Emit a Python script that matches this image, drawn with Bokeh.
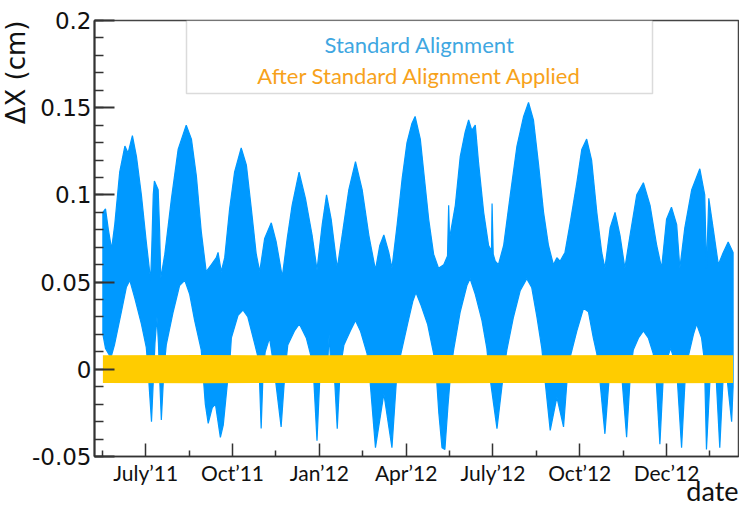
from bokeh.plotting import figure
from bokeh.models import Range1d, FixedTicker, Label, BoxAnnotation, Title
from bokeh.embed import file_html
from bokeh.resources import INLINE

# ---- data (x in months since Jan 2011, y = Delta X in cm) ----
# upper envelope of the "Standard Alignment" scatter
top_month = [4.52, 4.61, 4.71, 4.82, 4.93, 5.10, 5.28, 5.39, 5.54, 5.68,
             5.85, 6.02, 6.17, 6.21, 6.26, 6.30, 6.43, 6.48, 6.52, 6.66,
             6.89, 7.12, 7.40, 7.58, 7.75, 7.92, 8.09, 8.27, 8.44, 8.50,
             8.61, 8.73, 8.90, 9.07, 9.30, 9.48, 9.65, 9.82, 9.94, 10.11,
             10.34, 10.51, 10.72, 10.89, 11.06, 11.30, 11.52, 11.75, 11.92, 12.10,
             12.25, 12.41, 12.62, 12.79, 13.02, 13.25, 13.48, 13.71, 13.94, 14.09,
             14.23, 14.40, 14.51, 14.69, 14.86, 15.03, 15.20, 15.31, 15.49, 15.61,
             15.78, 15.95, 16.12, 16.30, 16.43, 16.47, 16.50, 16.70, 16.87, 17.04,
             17.16, 17.27, 17.39, 17.50, 17.68, 17.85, 17.95, 17.97, 18.01, 18.08,
             18.19, 18.37, 18.60, 18.83, 19.06, 19.23, 19.40, 19.58, 19.75, 19.92,
             20.09, 20.21, 20.32, 20.49, 20.67, 20.90, 21.07, 21.24, 21.41, 21.59,
             21.76, 21.87, 22.05, 22.22, 22.39, 22.56, 22.74, 22.97, 23.20, 23.43,
             23.66, 23.83, 24.00, 24.17, 24.35, 24.46, 24.63, 24.87, 25.15, 25.32,
             25.38, 25.46, 25.61, 25.79, 25.96, 26.13, 26.30]
top_dx = [0.090, 0.092, 0.080, 0.069, 0.083, 0.113, 0.128, 0.124, 0.134, 0.122,
          0.100, 0.073, 0.051, 0.070, 0.100, 0.108, 0.103, 0.080, 0.052, 0.066,
          0.098, 0.126, 0.140, 0.132, 0.111, 0.079, 0.056, 0.060, 0.064, 0.067,
          0.056, 0.064, 0.092, 0.113, 0.127, 0.117, 0.092, 0.066, 0.056, 0.075,
          0.084, 0.073, 0.053, 0.075, 0.094, 0.113, 0.098, 0.077, 0.057, 0.083,
          0.100, 0.086, 0.058, 0.077, 0.103, 0.119, 0.103, 0.077, 0.057, 0.071,
          0.077, 0.067, 0.058, 0.083, 0.109, 0.130, 0.141, 0.145, 0.132, 0.113,
          0.086, 0.066, 0.058, 0.060, 0.065, 0.094, 0.075, 0.094, 0.122, 0.136,
          0.143, 0.137, 0.140, 0.119, 0.090, 0.071, 0.068, 0.095, 0.066, 0.062,
          0.060, 0.071, 0.100, 0.128, 0.145, 0.153, 0.143, 0.117, 0.090, 0.071,
          0.060, 0.064, 0.062, 0.067, 0.084, 0.107, 0.126, 0.132, 0.120, 0.090,
          0.067, 0.058, 0.081, 0.090, 0.077, 0.058, 0.077, 0.100, 0.107, 0.094,
          0.071, 0.058, 0.086, 0.093, 0.083, 0.058, 0.081, 0.103, 0.115, 0.100,
          0.058, 0.098, 0.081, 0.060, 0.067, 0.073, 0.067]

# lower envelope of the "Standard Alignment" scatter
bot_month = [4.52, 4.61, 4.75, 4.82, 4.92, 5.16, 5.33, 5.45, 5.62, 5.85,
             6.02, 6.08, 6.20, 6.28, 6.32, 6.39, 6.44, 6.47, 6.54, 6.63,
             6.71, 6.95, 7.17, 7.35, 7.52, 7.69, 7.92, 7.97, 8.06, 8.16,
             8.30, 8.41, 8.58, 8.68, 8.84, 8.89, 8.96, 9.19, 9.36, 9.53,
             9.76, 9.88, 9.92, 9.99, 10.06, 10.13, 10.28, 10.37, 10.44, 10.68,
             10.82, 10.91, 11.14, 11.31, 11.55, 11.72, 11.79, 11.92, 12.03, 12.10,
             12.29, 12.34, 12.39, 12.51, 12.62, 12.72, 12.85, 13.07, 13.25, 13.42,
             13.65, 13.72, 13.94, 14.23, 14.51, 14.69, 14.82, 15.05, 15.23, 15.34,
             15.51, 15.74, 15.95, 16.03, 16.13, 16.24, 16.34, 16.45, 16.55, 16.64,
             16.87, 17.10, 17.21, 17.39, 17.62, 17.79, 17.86, 18.14, 18.38, 18.48,
             18.71, 18.94, 19.17, 19.34, 19.52, 19.69, 19.76, 19.98, 20.21, 20.44,
             20.59, 20.67, 20.90, 21.13, 21.30, 21.47, 21.59, 21.66, 21.87, 22.04,
             22.14, 22.42, 22.62, 22.76, 22.85, 23.03, 23.20, 23.37, 23.54, 23.62,
             23.77, 23.90, 24.00, 24.14, 24.28, 24.35, 24.52, 24.66, 24.76, 24.93,
             25.04, 25.21, 25.31, 25.38, 25.52, 25.59, 25.69, 25.84, 25.97, 26.04,
             26.25, 26.30]
bot_dx = [0.020, 0.012, 0.008, 0.008, 0.014, 0.033, 0.047, 0.051, 0.041, 0.026,
          0.0125, 0.0, -0.030, 0.0, 0.015, 0.030, 0.015, 0.0, -0.029, 0.0,
          0.014, 0.033, 0.048, 0.051, 0.043, 0.028, 0.011, 0.0, -0.020, -0.031,
          -0.022, -0.020, -0.039, -0.032, -0.005, 0.0, 0.018, 0.031, 0.034, 0.030,
          0.015, 0.007, 0.0, -0.034, 0.0, 0.010, 0.018, 0.008, 0.0, -0.033,
          0.0, 0.014, 0.022, 0.026, 0.018, 0.007, 0.0, -0.041, 0.0, 0.004,
          0.004, 0.020, 0.004, 0.0, -0.034, 0.0, 0.014, 0.022, 0.028, 0.022,
          0.009, 0.0, -0.045, -0.014, -0.045, 0.0, 0.009, 0.026, 0.039, 0.044,
          0.037, 0.026, 0.009, 0.0, -0.025, -0.045, -0.046, -0.020, 0.0, 0.011,
          0.033, 0.048, 0.052, 0.043, 0.028, 0.012, 0.0, -0.034, 0.0, 0.011,
          0.030, 0.045, 0.052, 0.047, 0.030, 0.012, 0.0, -0.035, -0.016, -0.033,
          0.0, 0.007, 0.022, 0.035, 0.033, 0.018, 0.009, 0.0, -0.037, 0.0,
          0.003, 0.003, -0.039, 0.0, 0.011, 0.018, 0.022, 0.018, 0.009, 0.0,
          -0.043, 0.0, 0.005, 0.012, 0.005, 0.0, -0.045, 0.0, 0.008, 0.020,
          0.026, 0.018, 0.005, -0.046, 0.0, 0.003, 0.003, -0.045, 0.0, 0.003,
          -0.030, -0.010]

# "After Standard Alignment Applied" band
after_month = [4.52, 8.0, 12.0, 16.0, 20.0, 24.0, 26.30]
after_high = [0.0080, 0.0082, 0.0080, 0.0082, 0.0080, 0.0082, 0.0080]
after_low = [-0.0078, -0.0080, -0.0078, -0.0080, -0.0078, -0.0080, -0.0078]

x_ticks = [6, 9, 12, 15, 18, 21, 24]
x_tick_labels = ["July\u201911", "Oct\u201911", "Jan\u201912", "Apr\u201912",
                 "July\u201912", "Oct\u201912", "Dec\u201912"]
x_minor = [4.5, 7.5, 10.5, 13.5, 16.5, 19.5, 22.5, 25.5]
y_ticks = [-0.05, 0.0, 0.05, 0.1, 0.15, 0.2]
y_tick_labels = ["-0.05", "0", "0.05", "0.1", "0.15", "0.2"]
y_minor = [round(-0.05 + 0.01 * i, 2) for i in range(26)]

assert len(top_month) == len(top_dx)
assert len(bot_month) == len(bot_dx)

BLUE = "#0099ff"
GOLD = "#ffcc00"

p = figure(width=739, height=507, output_backend="svg", toolbar_location=None,
           x_range=Range1d(4.23, 26.487), y_range=Range1d(-0.05, 0.2),
           min_border_left=93, min_border_top=20, min_border_right=1,
           min_border_bottom=51)
p.grid.visible = False
p.outline_line_color = "#444444"
p.outline_line_width = 1.5
p.background_fill_color = "white"
p.border_fill_color = "white"

# blue region: upper envelope forward, lower envelope backward
poly_x = top_month + bot_month[::-1]
poly_y = top_dx + bot_dx[::-1]
p.patch(poly_x, poly_y, fill_color=BLUE, line_color=BLUE, line_width=1.2)

p.varea(x=after_month, y1=after_low, y2=after_high, fill_color=GOLD)

# axes
xa = p.xaxis[0]
xa.ticker = FixedTicker(ticks=x_ticks, minor_ticks=x_minor)
xa.major_label_overrides = {t: l for t, l in zip(x_ticks, x_tick_labels)}
xa.major_tick_in = 13
xa.major_tick_out = 0
xa.minor_tick_in = 6
xa.minor_tick_out = 0
xa.axis_line_color = "#333333"
xa.axis_line_width = 1.5
xa.major_tick_line_color = "#333333"
xa.minor_tick_line_color = "#333333"
xa.major_tick_line_width = 1.5
xa.minor_tick_line_width = 1.5
xa.major_label_text_font = "Lato"
xa.major_label_text_font_size = "21px"
xa.major_label_text_color = "#111111"
xa.major_label_standoff = 3

ya = p.yaxis[0]
ya.ticker = FixedTicker(ticks=y_ticks, minor_ticks=y_minor)
ya.major_label_overrides = {t: l for t, l in zip(y_ticks, y_tick_labels)}
ya.major_tick_in = 20
ya.major_tick_out = 0
ya.minor_tick_in = 9
ya.minor_tick_out = 0
ya.axis_line_color = "#333333"
ya.axis_line_width = 2
ya.major_tick_line_color = "#333333"
ya.minor_tick_line_color = "#333333"
ya.major_tick_line_width = 2
ya.minor_tick_line_width = 1.5
ya.major_label_text_font = "DejaVu Sans"
ya.major_label_text_font_size = "23px"
ya.major_label_text_color = "#111111"
ya.major_label_standoff = 3

# axis titles (as side titles so they can be end-aligned)
p.add_layout(Title(text="\u0394X (cm)", align="right", standoff=-4,
                   text_font="DejaVu Sans", text_font_size="26px",
                   text_font_style="normal", text_color="#111111"), "left")
p.add_layout(Title(text="date", align="right", standoff=-31,
                   text_font="Lato", text_font_size="27px",
                   text_font_style="normal", text_color="#111111"), "below")

# legend box
p.add_layout(BoxAnnotation(left=92, right=558, top=436, bottom=363,
                           left_units="screen", right_units="screen",
                           top_units="screen", bottom_units="screen",
                           fill_color="white", fill_alpha=1.0,
                           line_color="#888888", line_width=1.5, level="overlay"))
p.add_layout(Label(x=325, y=412, x_units="screen", y_units="screen",
                   text="Standard Alignment", text_align="center",
                   text_baseline="alphabetic", text_font="Lato",
                   text_font_size="22px", text_color="#3fa7e1", level="overlay"))
p.add_layout(Label(x=325, y=381, x_units="screen", y_units="screen",
                   text="After Standard Alignment Applied", text_align="center",
                   text_baseline="alphabetic", text_font="Lato",
                   text_font_size="22px", text_color="#f7a21b", level="overlay"))

open("out.html", "w").write(file_html(p, INLINE))
